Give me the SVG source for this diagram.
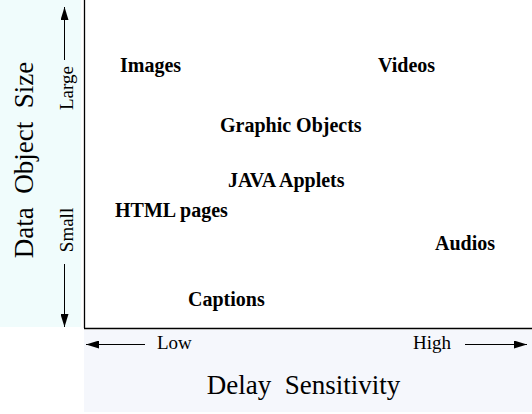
<svg xmlns="http://www.w3.org/2000/svg" width="532" height="414" viewBox="0 0 532 414">
<defs>
<marker id="ah" markerWidth="13" markerHeight="8" refX="13" refY="4" orient="auto" markerUnits="userSpaceOnUse">
<path d="M0,0 L13,4 L0,8 Z" fill="#000"/>
</marker>
<style>
.lbl{font-family:"Liberation Serif","Times New Roman",serif;font-weight:bold;font-size:20px;fill:#000}
.ax{font-family:"Liberation Serif","Times New Roman",serif;font-size:19px;fill:#000}
.title{font-family:"Liberation Serif","Times New Roman",serif;font-size:27px;fill:#000}
.line{stroke:#000;stroke-width:1.3;fill:none}
.arr{stroke:#000;stroke-width:1;fill:none;marker-end:url(#ah)}
</style>
</defs>
<rect width="532" height="414" fill="#fff"/>
<rect x="0" y="0" width="81" height="327" fill="#f0fcfc"/>
<rect x="84" y="330" width="448" height="82" fill="#f5f7fc"/>
<g id="axes">
<line class="line" x1="84.5" y1="0" x2="84.5" y2="328"/>
<line class="line" x1="84" y1="328.5" x2="532" y2="328.5"/>
</g>
<g id="connectors">
<line class="arr" x1="64.5" y1="60" x2="64.5" y2="7"/>
<line class="arr" x1="64.5" y1="264" x2="64.5" y2="327"/>
<line class="arr" x1="145" y1="344.5" x2="86" y2="344.5"/>
<line class="arr" x1="465" y1="344.5" x2="527" y2="344.5"/>
</g>
<g id="axis-labels">
<text class="title" transform="translate(33,160) rotate(-90)" text-anchor="middle" xml:space="preserve">Data  Object  Size</text>
<text class="ax" transform="translate(73,88) rotate(-90)" text-anchor="middle">Large</text>
<text class="ax" transform="translate(73,230) rotate(-90)" text-anchor="middle">Small</text>
<text class="ax" x="157" y="349">Low</text>
<text class="ax" x="413" y="349">High</text>
<text class="title" x="303.5" y="394" text-anchor="middle" xml:space="preserve">Delay  Sensitivity</text>
</g>
<g id="node-images"><text class="lbl" x="120" y="72">Images</text></g>
<g id="node-videos"><text class="lbl" x="378" y="72">Videos</text></g>
<g id="node-graphic"><text class="lbl" x="220" y="132">Graphic Objects</text></g>
<g id="node-java"><text class="lbl" x="228" y="187">JAVA Applets</text></g>
<g id="node-html"><text class="lbl" x="115" y="217">HTML pages</text></g>
<g id="node-audios"><text class="lbl" x="435" y="250">Audios</text></g>
<g id="node-captions"><text class="lbl" x="188" y="306">Captions</text></g>
</svg>
